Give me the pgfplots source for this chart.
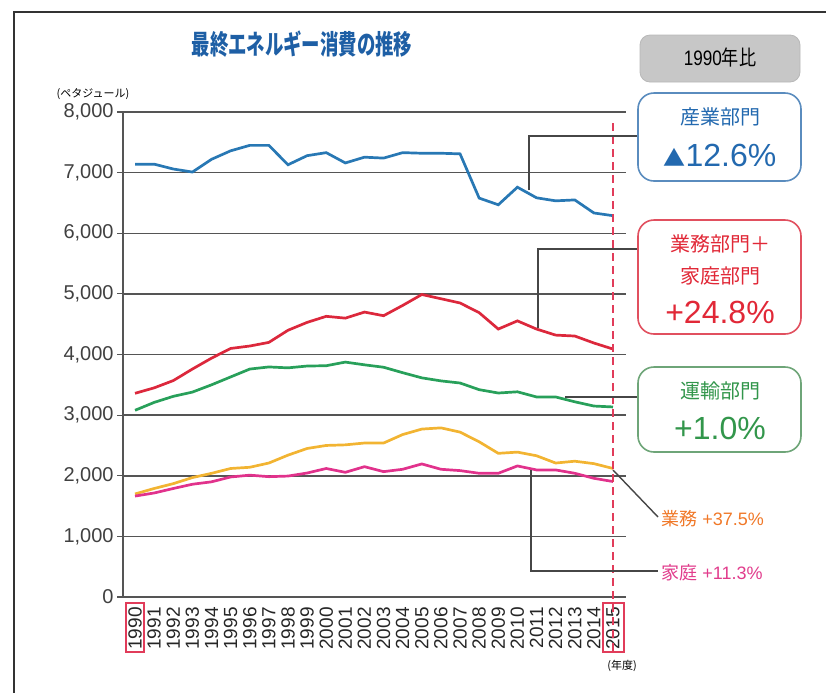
\documentclass[border=0pt]{standalone}
\usepackage{fontspec}
\setmainfont{Liberation Sans}
\newfontfamily\jp{Noto Sans CJK JP}
\usepackage{pgfplots}
\pgfplotsset{compat=1.18}
\definecolor{cblue}{RGB}{40,120,180}
\definecolor{cred}{RGB}{220,40,60}
\definecolor{cgreen}{RGB}{40,160,90}
\definecolor{corange}{RGB}{242,180,50}
\definecolor{cpink}{RGB}{225,50,140}
\definecolor{ctitle}{RGB}{30,95,165}
\definecolor{tblue}{RGB}{35,105,175}
\definecolor{tred}{RGB}{225,40,55}
\definecolor{tgreen}{RGB}{50,150,75}
\definecolor{torange}{RGB}{240,120,40}
\definecolor{tpink}{RGB}{225,60,140}
\definecolor{bblue}{RGB}{90,140,190}
\definecolor{bred}{RGB}{225,80,95}
\definecolor{bgreen}{RGB}{110,165,120}
\definecolor{gridc}{RGB}{85,85,85}
\definecolor{lead}{RGB}{70,70,70}
\definecolor{dashc}{RGB}{225,60,90}

\pgfplotstableread{
year ind res tra com hou
1990 7140 3360 3080 1700 1665
1991 7140 3450 3210 1790 1716
1992 7060 3570 3310 1870 1790
1993 7010 3760 3380 1970 1860
1994 7220 3940 3500 2040 1900
1995 7360 4100 3630 2120 1980
1996 7450 4140 3760 2140 2010
1997 7450 4200 3795 2210 1985
1998 7130 4400 3780 2340 1995
1999 7280 4530 3810 2450 2045
2000 7330 4630 3815 2500 2120
2001 7160 4600 3875 2510 2057
2002 7255 4700 3830 2540 2150
2003 7240 4640 3790 2540 2068
2004 7330 4810 3700 2680 2107
2005 7320 4990 3615 2770 2195
2006 7320 4920 3565 2790 2107
2007 7310 4850 3530 2720 2085
2008 6580 4690 3420 2560 2041
2009 6470 4420 3365 2370 2041
2010 6760 4555 3385 2390 2162
2011 6585 4420 3300 2330 2096
2012 6535 4320 3300 2210 2096
2013 6550 4305 3220 2240 2041
2014 6335 4190 3150 2200 1958
2015 6290 4090 3135 2120 1905
}\datatable

\begin{document}
\begin{tikzpicture}
\begin{scope}[x=0.5pt,y=-0.5pt]
\useasboundingbox (0,0) rectangle (826,692);
% outer frame
\draw[line width=1.3pt, draw=black!80] (14,700) -- (14,12) -- (830,12);
% title
\node[text=ctitle] at (302,44) {\scalebox{0.92}[1.35]{\jp\bfseries\fontsize{10}{10}\selectfont 最終エネルギー消費の推移}};
% 1990 box
\draw[fill=black!22, draw=black!28, rounded corners=5pt] (640,35) rectangle (800,82);
\node at (720,58) {\scalebox{0.9}[1.1]{\fontsize{9.5}{10}\selectfont 1990{\jp 年比}}};
% unit
\node at (93,94) {\jp\fontsize{5.5}{6}\selectfont (ペタジュール)};
\node at (622,666) {\jp\fontsize{5.5}{6}\selectfont (年度)};
\end{scope}

\begin{axis}[
  at={(61.5pt,-298.5pt)}, anchor=south west,
  scale only axis, width=251.5pt, height=242.5pt,
  xmin=1989.37, xmax=2015.68, ymin=0, ymax=8000,
  axis x line*=bottom, axis y line*=left,
  axis line style={draw=gridc, line width=0.8pt},
  ymajorgrids, grid style={draw=gridc, line width=0.75pt},
  ytick={0,1000,...,8000},
  xtick={1990,...,2015},
  xtick style={draw=none},
  ytick style={draw=gridc, line width=0.6pt},
  tick align=outside, major tick length=3pt,
  /pgf/number format/assume math mode=true,
  x tick label style={rotate=90, anchor=east, font=\fontsize{9.5}{10}\selectfont, text=black!85, /pgf/number format/1000 sep={}, inner sep=2pt},
  y tick label style={font=\fontsize{10}{10}\selectfont, text=black!75, inner sep=1.5pt},
  clip=false,
]
\addplot[cblue, line width=1.35pt] table[x=year,y=ind] {\datatable};
\addplot[cred, line width=1.35pt] table[x=year,y=res] {\datatable};
\addplot[cgreen, line width=1.35pt] table[x=year,y=tra] {\datatable};
\addplot[corange, line width=1.35pt] table[x=year,y=com] {\datatable};
\addplot[cpink, line width=1.35pt] table[x=year,y=hou] {\datatable};
\end{axis}

\begin{scope}[x=0.5pt,y=-0.5pt]
% dashed line
\draw[dashc, line width=1.1pt, dash pattern=on 4pt off 2.5pt] (613,123) -- (613,655);
% red tick boxes
\draw[dashc, line width=0.6pt] (126,603) rectangle (144,652);
\draw[dashc, line width=0.6pt] (603,603) rectangle (624,652);
% leaders
\draw[lead, line width=0.7pt] (529,190) -- (529,136) -- (638,136);
\draw[lead, line width=0.7pt] (538,328) -- (538,249) -- (638,249);
\draw[lead, line width=0.7pt] (565,397) -- (638,397);
\draw[lead, line width=0.7pt] (613,470) -- (658,517);
\draw[lead, line width=0.7pt] (531,470) -- (531,571) -- (658,571);
% boxes
\draw[bblue, line width=0.8pt, rounded corners=8pt, fill=white] (638,93) rectangle (801,181);
\node[text=tblue] at (720,117) {\jp\fontsize{10}{10}\selectfont 産業部門};
\node[text=tblue] at (720,155) {\fontsize{16}{16}\selectfont{\jp\fontsize{11}{11}\selectfont ▲}12.6\%};
\draw[bred, line width=0.8pt, rounded corners=8pt, fill=white] (638,220) rectangle (801,334);
\node[text=tred] at (720,244) {\jp\fontsize{10}{10}\selectfont 業務部門＋};
\node[text=tred] at (720,276) {\jp\fontsize{10}{10}\selectfont 家庭部門};
\node[text=tred] at (720,312) {\fontsize{16}{16}\selectfont +24.8\%};
\draw[bgreen, line width=0.8pt, rounded corners=8pt, fill=white] (638,367) rectangle (801,452);
\node[text=tgreen] at (720,391) {\jp\fontsize{10}{10}\selectfont 運輸部門};
\node[text=tgreen] at (720,428) {\fontsize{16}{16}\selectfont +1.0\%};
% small labels
\node[text=torange, anchor=west, inner sep=0pt] at (661,519) {\fontsize{9}{10}\selectfont{\jp 業務} +37.5\%};
\node[text=tpink, anchor=west, inner sep=0pt] at (661,573) {\fontsize{9}{10}\selectfont{\jp 家庭} +11.3\%};
\end{scope}
\end{tikzpicture}
\end{document}
